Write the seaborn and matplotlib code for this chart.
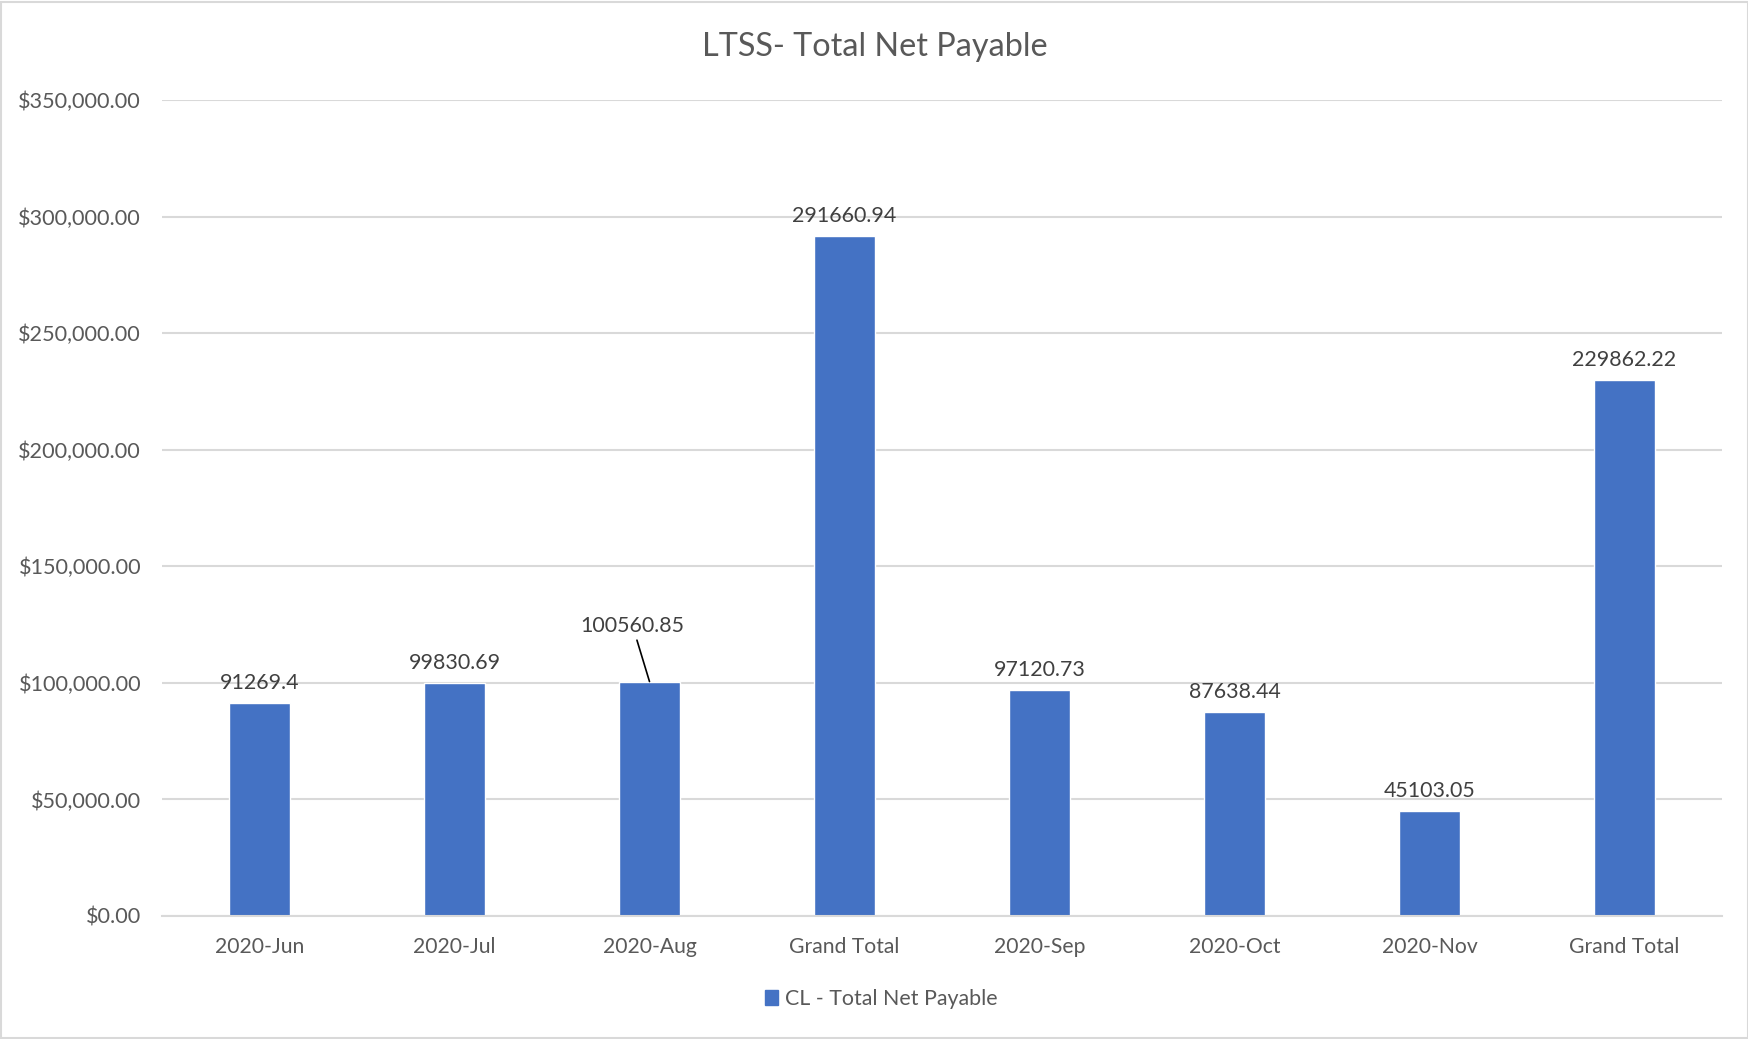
import matplotlib
matplotlib.use("Agg")
import matplotlib.pyplot as plt
import seaborn as sns
import pandas as pd
from matplotlib.patches import Rectangle
from matplotlib.ticker import FuncFormatter

categories = ["2020-Jun", "2020-Jul", "2020-Aug", "Grand Total",
              "2020-Sep", "2020-Oct", "2020-Nov", "Grand Total"]
values = [91269.40, 99830.69, 100560.85, 291660.94,
          97120.73, 87638.44, 45103.05, 229862.22]
series_name = "CL - Total Net Payable"
title = "LTSS- Total Net Payable"

slots = [f"s{i}" for i in range(len(categories))]
df = pd.DataFrame({"slot": slots, "value": values, "series": series_name})

sns.set_theme(style="white")
plt.rcParams["font.family"] = ["Lato", "DejaVu Sans"]

BAR = "#4472C4"
GRID = "#d9d9d9"
TICK = "#595959"
LABEL = "#404040"

fig = plt.figure(figsize=(17.49, 10.39), dpi=100)
ax = fig.add_axes([162 / 1749, 1 - 916 / 1039, (1722 - 162) / 1749, (916 - 100) / 1039])

sns.barplot(data=df, x="slot", y="value", hue="series", order=slots,
            palette=[BAR], width=0.314, dodge=False, saturation=1, ax=ax,
            legend=True)

ax.set_ylim(0, 350000)
ax.set_yticks(range(0, 350001, 50000))
ax.yaxis.set_major_formatter(FuncFormatter(lambda v, p: f"${v:,.2f}"))
ax.set_xticks(range(len(categories)))
ax.set_xticklabels(categories)
ax.set_xlabel("")
ax.set_ylabel("")
ax.set_xlim(-0.5, len(categories) - 0.5)

ax.grid(axis="y", color=GRID, linewidth=1.5)
ax.set_axisbelow(True)
for s in ["top", "right", "left"]:
    ax.spines[s].set_visible(False)
ax.spines["bottom"].set_color(GRID)
ax.spines["bottom"].set_linewidth(1.5)
ax.tick_params(axis="y", length=0, pad=15, labelsize=15.6, labelcolor=TICK)
ax.tick_params(axis="x", length=0, pad=15, labelsize=15.2, labelcolor=TICK)

def fmt(v):
    return f"{v:.2f}".rstrip("0").rstrip(".")

for i, v in enumerate(values):
    if categories[i] == "2020-Aug":
        ax.annotate(fmt(v), xy=(i, v), xytext=(-17, 56), textcoords="offset pixels",
                    ha="center", va="center", fontsize=15.4, color=LABEL,
                    arrowprops=dict(arrowstyle="-", color="black", lw=1.2,
                                    shrinkA=1, shrinkB=0))
    else:
        ax.annotate(fmt(v), xy=(i, v), xytext=(0, 10), textcoords="offset pixels",
                    ha="center", va="bottom", fontsize=15.4, color=LABEL)

leg = ax.get_legend()
if leg is not None:
    leg.remove()
handle = Rectangle((0, 0), 1, 1, color=BAR)
fig.legend([handle], [series_name], loc="center", bbox_to_anchor=(881 / 1749, 1 - 999 / 1039),
           frameon=False, fontsize=15.4, labelcolor=TICK, handlelength=0.65, handleheight=0.65,
           handletextpad=0.3)

fig.text(0.5, 1 - 47 / 1039, title, ha="center", va="center", fontsize=23.3, color=TICK)

fig.patches.append(Rectangle((0.0008, 0.001), 0.9984, 0.997, transform=fig.transFigure,
                             fill=False, edgecolor=GRID, linewidth=1.5))

fig.savefig("out.png", dpi=100, facecolor="white")
